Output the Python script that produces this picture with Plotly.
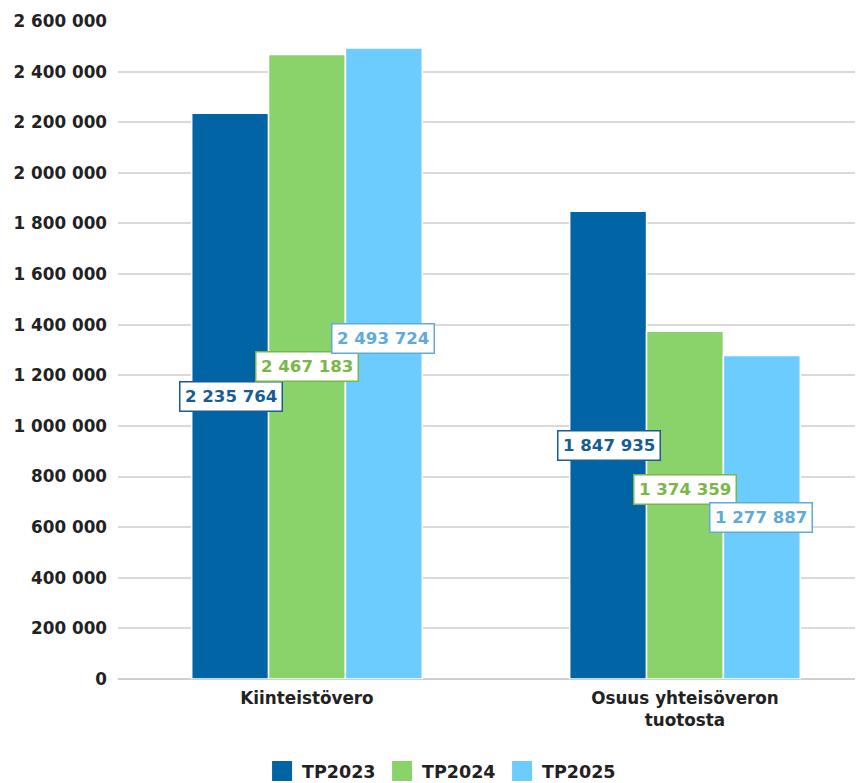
import plotly.graph_objects as go

categories = ["Kiinteistövero", "Osuus yhteisöveron<br>tuotosta"]
series_names = ["TP2023", "TP2024", "TP2025"]
tp2023 = [2235764, 1847935]
tp2024 = [2467183, 1374359]
tp2025 = [2493724, 1277887]
y_ticks = list(range(0, 2600001, 200000))

bar_colors = ["#0064A5", "#8AD26A", "#6DCCFE"]
label_colors = ["#175C94", "#7AB648", "#5FAAD8"]
# pixel nudges so the value boxes don't collide
label_yshift = [[0, 0], [0, 16], [25, 0]]

font = "DejaVu Sans"

fig = go.Figure()
for i, (name, vals) in enumerate(zip(series_names, [tp2023, tp2024, tp2025])):
    fig.add_trace(
        go.Bar(
            x=categories,
            y=vals,
            name=name,
            marker=dict(color=bar_colors[i], line=dict(color="white", width=1.5)),
            showlegend=False,
        )
    )
    # legend entries with larger square swatches
    fig.add_trace(
        go.Scatter(
            x=[None],
            y=[None],
            mode="markers",
            name=name,
            marker=dict(symbol="square", size=16, color=bar_colors[i],
                        line=dict(color=bar_colors[i], width=4)),
        )
    )

# value boxes at half bar height, offset per bar within the group
bar_px = 76
for i, vals in enumerate([tp2023, tp2024, tp2025]):
    for j, v in enumerate(vals):
        fig.add_annotation(
            x=categories[j],
            y=v / 2,
            xref="x",
            yref="y",
            text=f"{v:,}".replace(",", " "),
            showarrow=False,
            xshift=(i - 1) * bar_px,
            yshift=label_yshift[i][j],
            font=dict(family=font, size=16.6, color=label_colors[i], weight="bold"),
            bgcolor="white",
            bordercolor=label_colors[i],
            borderwidth=1.5,
            borderpad=4.5,
        )

# page body adds 8px offset, so the figure is 8px smaller each way
fig.update_layout(
    width=855,
    height=775,
    margin=dict(l=110, r=0, t=13, b=104, autoexpand=False),
    plot_bgcolor="white",
    paper_bgcolor="white",
    separators=", ",
    font=dict(family=font, size=16.8, color="#222222", weight="bold"),
    barmode="group",
    bargap=0.39,
    bargroupgap=0,
    legend=dict(
        orientation="h",
        x=0.435,
        xanchor="center",
        y=-0.14,
        yanchor="middle",
        font=dict(family=font, size=17.5, color="#222222", weight="bold"),
        itemsizing="trace",
        entrywidth=75,
    ),
)
fig.update_xaxes(range=[-0.5, 1.471], showgrid=False, ticks="", automargin=False,
                 ticklabelstandoff=7, tickfont=dict(size=16.8))
fig.update_yaxes(
    range=[0, 2600000],
    tickvals=y_ticks,
    tickformat=",d",
    showgrid=True,
    gridcolor="#D9D9D9",
    gridwidth=1.5,
    zeroline=True,
    zerolinecolor="#CFCFCF",
    zerolinewidth=1.5,
    ticks="",
    automargin=False,
    ticklabelstandoff=10,
    tickfont=dict(size=16.8),
)

fig.write_html("out.html")
